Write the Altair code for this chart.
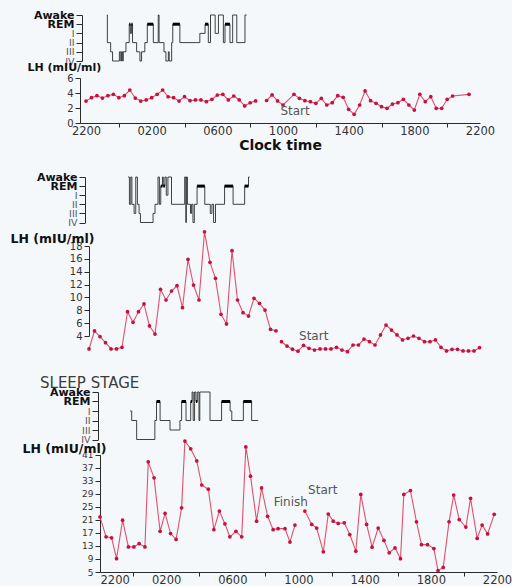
import altair as alt
import pandas as pd

FONT = "DejaVu Sans"
INK = "#2b2b2b"
LINE_RED = "#e2506f"
DOT_RED = "#c4123f"
STAGE_ORDER = ["IV", "III", "II", "I", "REM", "Awake"]

# ---------------- Panel 1: baseline day ----------------
# times are minutes after 22:00; None marks a missing sample (line break)
p1_time = [0, 20, 40, 60, 80, 100, 120, 140, 160, 180, 200, 220, 240, 260, 280, 300,
           320, 340, 360, 380, 400, 420, 440, 460, 480, 500, 520, 540, 560, 580, 600, 620,
           640, 660, 680, 700, 720, 760, 780, 800, 820, 840, 860, 880, 900, 920, 940, 960,
           980, 1000, 1020, 1040, 1060, 1080, 1100, 1120, 1140, 1160, 1180, 1200, 1220,
           1240, 1260, 1280, 1300, 1320, 1340, 1400]
p1_lh = [2.93, 3.38, 3.64, 3.33, 3.64, 3.82, 3.38, 3.64, 4.40, 3.33, 2.93, 3.07, 3.38, 3.82,
         4.40, 3.50, 3.38, 2.93, 3.51, 2.98, 3.07, 3.07, 2.84, 3.16, 3.73, 3.82, 3.07, 3.60,
         3.07, 2.27, 2.70, 2.95, None, 3.00, 3.75, 2.95, 2.40, 3.82, 3.29, 2.98, 2.84, 2.62,
         3.29, 2.40, 2.71, 3.64, 3.42, 1.82, 1.16, 2.40, 4.27, 2.98, 2.62, 2.18, 1.96, 2.53,
         2.71, 3.16, 2.40, 1.73, 3.82, 2.84, 3.51, 1.96, 1.96, 3.16, 3.60, 3.82]
p1_hyp_time = [76, 78, 90, 97, 122, 127, 130, 134, 136, 146, 158, 162, 166, 170, 185, 197,
               203, 215, 224, 246, 264, 267, 285, 292, 301, 304, 313, 317, 343, 416, 435,
               447, 455, 472, 484, 502, 508, 526, 536, 551, 581, 587]
p1_hyp_stage = ["Awake", "II", "III", "IV", "III", "IV", "III", "IV", "III", "II", "REM", "I",
                "REM", "II", "III", "IV", "III", "II", "REM", "II", "Awake", "II", "III", "IV",
                "III", "IV", "II", "REM", "II", "I", "REM", "II", "Awake", "I", "Awake", "II",
                "REM", "II", "Awake", "II", "Awake", "Awake"]
p1_note_text = ["Start"]
p1_note_time = [764]
p1_note_lh = [1.55]

# ---------------- Panel 2 ----------------
p2_time = [0, 20, 40, 60, 80, 100, 120, 140, 160, 180, 200, 220, 240, 260, 280, 300, 320,
           340, 360, 380, 400, 420, 440, 460, 480, 500, 520, 540, 560, 580, 600, 620, 640,
           660, 680, 690, 700, 720, 740, 760, 780, 800, 820, 840, 860, 880, 900, 920, 940,
           960, 980, 1000, 1020, 1040, 1060, 1080, 1100, 1120, 1140, 1160, 1180, 1200, 1220,
           1240, 1260, 1280, 1300, 1320, 1340, 1360, 1380, 1400, 1420]
p2_lh = [1.98, 4.78, 3.90, 2.96, 1.98, 1.98, 2.24, 7.78, 6.12, 7.78, 8.98, 5.56, 4.31, 11.26,
         9.60, 11.00, 11.83, 8.40, 15.93, 11.93, 9.60, 20.20, 15.46, 12.97, 7.37, 5.87, 17.27,
         9.60, 7.62, 7.11, 9.86, 9.08, 8.04, 5.04, 4.80, None, 3.11, 2.44, 1.95, 1.64, 2.55,
         2.09, 1.82, 1.98, 1.98, 1.98, 2.24, 1.82, 1.56, 2.60, 2.60, 3.53, 3.11, 2.60, 4.16,
         5.71, 4.93, 4.16, 3.38, 3.64, 4.00, 3.64, 3.11, 3.11, 3.38, 2.24, 1.67, 1.93, 1.93,
         1.67, 1.67, 1.67, 2.18]
p2_hyp_time = [142, 147, 152, 156, 164, 170, 176, 182, 187, 233, 240, 251, 256, 261, 267, 270,
               276, 281, 287, 300, 348, 352, 354, 358, 369, 373, 378, 383, 393, 421, 441, 447,
               453, 460, 493, 524, 566, 580, 584]
p2_hyp_stage = ["Awake", "II", "Awake", "II", "III", "Awake", "II", "III", "IV", "III", "II",
                "Awake", "II", "REM", "Awake", "REM", "Awake", "I", "Awake", "II", "Awake", "IV",
                "Awake", "II", "III", "II", "IV", "II", "REM", "II", "III", "II", "IV", "II",
                "REM", "II", "REM", "Awake", "Awake"]
p2_note_text = ["Start"]
p2_note_time = [817]
p2_note_lh = [4.0]

# ---------------- Panel 3 ----------------
p3_time = [0, 22, 42, 60, 82, 103, 123, 142, 163, 175, 196, 218, 236, 256, 276, 296, 308, 329,
           351, 369, 393, 413, 433, 453, 471, 493, 514, 529, 546, 568, 586, 608, 628, 646, 671,
           689, 707, 725, 743, 768, 786, 810, 828, 846, 864, 886, 906, 928, 946, 967, 987,
           1009, 1030, 1049, 1070, 1090, 1102, 1126, 1148, 1166, 1188, 1211, 1226, 1245, 1266,
           1283, 1303, 1327, 1344, 1368, 1386, 1406, 1430]
p3_lh = [21.9, 15.8, 15.5, 9.1, 20.9, 12.7, 12.7, 13.7, 12.7, 38.8, 33.9, 17.5, 23.0, 16.8,
         15.0, 24.7, 45.2, 42.8, 39.1, 31.7, 30.4, 18.0, 23.7, 19.8, 15.8, 17.5, 15.8, 43.4,
         34.4, 20.6, 30.8, 22.1, 18.0, 18.3, 18.3, 14.2, 19.4, None, 23.7, 19.6, 18.5, 11.2,
         22.8, 20.6, 19.9, 20.1, 16.5, 11.4, 28.8, 19.6, 12.6, 18.5, 14.7, 10.9, 12.4, 9.1,
         28.8, 30.0, 20.4, 13.4, 13.4, 12.2, 5.4, 6.4, 20.4, 28.6, 21.1, 18.8, 27.6, 15.3,
         19.4, 16.7, 22.7]
p3_hyp_time = [109, 115, 133, 199, 205, 218, 254, 290, 296, 312, 329, 334, 338, 343, 348, 353,
               359, 362, 399, 441, 472, 478, 520, 550, 574]
p3_hyp_stage = ["I", "II", "IV", "II", "REM", "II", "III", "II", "REM", "II", "REM", "Awake",
                "II", "Awake", "REM", "Awake", "II", "Awake", "II", "REM", "I", "II", "REM",
                "II", "II"]
p3_note_text = ["Finish", "Start"]
p3_note_time = [692, 808]
p3_note_lh = [26.4, 30.1]

CLOCK_EXPR = ("datum.value % 240 === 0 ? "
              "pad(toString(((22 + datum.value / 60) % 24) * 100), 4, '0', 'left') : ''")


def lh_frame(times, values):
    df = pd.DataFrame({"t": times, "lh": values})
    df["seg"] = df["lh"].isna().cumsum()
    return df.dropna().reset_index(drop=True)


def hyp_frames(times, stages):
    levels = [STAGE_ORDER.index(s) for s in stages]
    steps = pd.DataFrame({"t": times, "level": levels})
    rem = pd.DataFrame({"t": times[:-1], "t2": times[1:], "level": levels[:-1],
                        "stage": stages[:-1]})
    rem = rem[rem["stage"] == "REM"].reset_index(drop=True)
    return steps, rem


def time_axis(title=None, flush_first=False):
    kw = dict(
        values=list(range(0, 1441, 120)),
        labelExpr=CLOCK_EXPR,
        tickOpacity={"condition": {"test": "datum.value % 240 === 0", "value": 0}, "value": 1},
        tickSize=4, tickColor=INK, domainColor=INK, labelColor="#333",
        labelFont=FONT, labelFontSize=11.5, labelPadding=-2, labelOverlap=False,
        labelFlush=False,
    )
    if flush_first:
        kw["labelAlign"] = {"condition": {"test": "datum.value === 0", "value": "left"},
                            "value": "center"}
    if title:
        kw.update(title=title, titleFont=FONT, titleFontSize=14, titleFontWeight="bold",
                  titleColor="#111", titlePadding=2)
    else:
        kw["title"] = None
    return alt.Axis(**kw)


def panel(times, lh, hyp_t, hyp_s, note_text, note_t, note_lh, *, x_domain, width, height,
          hyp_range, lh_domain, lh_range, lh_ticks, lh_offset, hyp_offset, title_x, title_y,
          title_size, lh_label_size, x_axis):
    df = lh_frame(times, lh)
    steps, rem = hyp_frames(hyp_t, hyp_s)
    notes = pd.DataFrame({"t": note_t, "lh": note_lh, "label": note_text})

    x = alt.X("t:Q", scale=alt.Scale(domain=x_domain, nice=False, zero=False),
              axis=x_axis, title=None)

    hyp_axis = alt.Axis(
        orient="left", values=[0, 1, 2, 3, 4, 5], title=None, labelOverlap=False,
        labelExpr="['IV','III','II','I','REM','Awake'][datum.value]",
        labelFont=FONT,
        labelFontSize={"condition": {"test": "datum.value >= 4", "value": 11}, "value": 9.5},
        labelFontWeight={"condition": {"test": "datum.value >= 4", "value": "bold"},
                         "value": "normal"},
        labelColor={"condition": {"test": "datum.value >= 4", "value": "#111"},
                    "value": "#555"},
        tickSize=6, labelPadding=2, offset=hyp_offset, domainColor=INK, tickColor=INK,
    )
    y_hyp = alt.Y("level:Q", scale=alt.Scale(domain=[0, 5], range=hyp_range, nice=False,
                                             zero=False), axis=hyp_axis)
    hyp_line = alt.Chart(steps).mark_line(interpolate="step-after", color=INK,
                                          strokeWidth=0.9).encode(x=x, y=y_hyp)
    rem_bars = alt.Chart(rem).mark_rule(color="#000", strokeWidth=3).encode(
        x=x, x2="t2:Q", y=y_hyp)

    lh_axis = alt.Axis(
        orient="left", values=lh_ticks, title="LH (mIU/ml)", titleAngle=0,
        titleAlign="left", titleBaseline="middle", titleX=title_x, titleY=title_y,
        titleFont=FONT, titleFontSize=title_size, titleFontWeight="bold", titleColor="#111",
        labelFont=FONT, labelFontSize=lh_label_size, labelColor="#333", labelPadding=2,
        labelOverlap=False, tickSize=5, offset=lh_offset, domainColor=INK, tickColor=INK,
    )
    y_lh = alt.Y("lh:Q", scale=alt.Scale(domain=lh_domain, range=lh_range, nice=False,
                                         zero=False), axis=lh_axis)
    lh_line = alt.Chart(df).mark_line(color=LINE_RED, strokeWidth=1.1).encode(
        x=x, y=y_lh, detail="seg:N")
    lh_dots = alt.Chart(df).mark_point(filled=True, size=14, color=DOT_RED,
                                       opacity=1).encode(x=x, y=y_lh)
    lh_notes = alt.Chart(notes).mark_text(font=FONT, fontSize=12, color="#555").encode(
        x=x, y=y_lh, text="label:N")

    return (alt.layer(alt.layer(hyp_line, rem_bars), alt.layer(lh_line, lh_dots, lh_notes))
            .resolve_scale(y="independent")
            .properties(width=width, height=height))


def spacer(w):
    return alt.Chart(pd.DataFrame({"v": [0]})).mark_point(opacity=0).properties(
        width=w, height=1)


panel1 = panel(p1_time, p1_lh, p1_hyp_time, p1_hyp_stage, p1_note_text, p1_note_time,
               p1_note_lh, x_domain=[-22, 1440], width=400, height=108,
               hyp_range=[46, 0], lh_domain=[0, 6], lh_range=[108, 63], lh_ticks=[0, 2, 4, 6],
               lh_offset=0, hyp_offset=-2, title_x=-53, title_y=52, title_size=11,
               lh_label_size=10, x_axis=time_axis("Clock time"))

panel2 = panel(p2_time, p2_lh, p2_hyp_time, p2_hyp_stage, p2_note_text, p2_note_time,
               p2_note_lh, x_domain=[0, 1440], width=396, height=181,
               hyp_range=[45.5, 0], lh_domain=[4, 18], lh_range=[159, 69],
               lh_ticks=list(range(4, 19, 2)), lh_offset=0, hyp_offset=4,
               title_x=-79, title_y=61, title_size=12.5, lh_label_size=10, x_axis=None)

panel3 = panel(p3_time, p3_lh, p3_hyp_time, p3_hyp_stage, p3_note_text, p3_note_time,
               p3_note_lh, x_domain=[0, 1440], width=397, height=180,
               hyp_range=[47.5, 0], lh_domain=[5, 41], lh_range=[180, 62.7],
               lh_ticks=list(range(5, 42, 4)), lh_offset=0, hyp_offset=2,
               title_x=-78, title_y=56, title_size=12.5, lh_label_size=9,
               x_axis=time_axis(flush_first=True)).properties(
    title=alt.TitleParams("SLEEP STAGE", anchor="start", frame="group", orient="top",
                          dx=-60, offset=-5, font=FONT, fontSize=15, fontWeight="normal",
                          color="#3c3c3c"))

rows = [alt.hconcat(spacer(s), p, spacing=0, bounds="flush")
        for s, p in [(1, panel1), (10, panel2), (21, panel3)]]

chart = (alt.vconcat(*rows, spacing=18)
         .properties(padding={"left": 10, "top": 9, "right": 0, "bottom": 0})
         .configure(background="#f5f8fb")
         .configure_view(strokeWidth=0)
         .configure_axis(grid=False))

chart.save("out.html", embed_options={"renderer": "svg", "actions": False})
